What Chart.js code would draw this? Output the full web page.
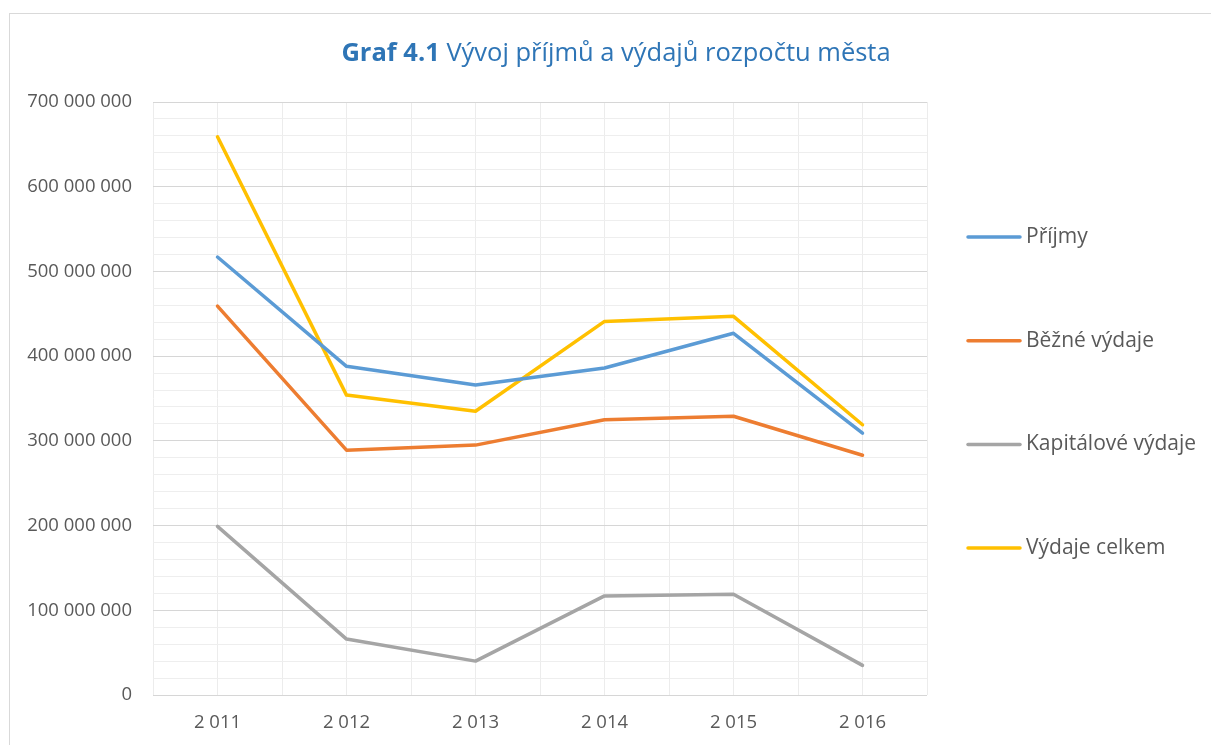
<!DOCTYPE html>
<html lang="cs">
<head>
<meta charset="utf-8">
<title>Graf 4.1 Vývoj příjmů a výdajů rozpočtu města</title>
<script src="https://cdn.jsdelivr.net/npm/chart.js@4.4.1/dist/chart.umd.min.js"></script>
<style>
  html, body { margin: 0; padding: 0; background: #fff; overflow: hidden; }
  #frame { position: absolute; left: 9px; top: 13px; width: 1230px; height: 770px; border: 1px solid #d9d9d9; box-sizing: border-box; }
  #wrap { position: absolute; left: 0; top: 0; width: 1211px; height: 745px; }
</style>
</head>
<body>
<div id="frame"></div>
<div id="wrap"><canvas id="myChart" width="1211" height="745"></canvas></div>
<script>
'use strict';

let years = ['2 011', '2 012', '2 013', '2 014', '2 015', '2 016'];

let prijmy = [517000000, 388000000, 366000000, 386000000, 427000000, 309000000];
let bezneVydaje = [459000000, 289000000, 295000000, 325000000, 329000000, 283000000];
let kapitaloveVydaje = [199000000, 66000000, 40000000, 117000000, 119000000, 35000000];
let vydajeCelkem = [659000000, 354000000, 335000000, 441000000, 447000000, 319000000];

let seriesNames = ['Příjmy', 'Běžné výdaje', 'Kapitálové výdaje', 'Výdaje celkem'];
let seriesColors = ['#5b9bd5', '#ed7d31', '#a5a5a5', '#ffc000'];

let titleBold = 'Graf 4.1';
let titleRest = 'Vývoj příjmů a výdajů rozpočtu města';

let yMax = 700000000;
let yMajor = 100000000;
let yMinor = 20000000;

let font = '"Open Sans", "Noto Sans", sans-serif';
let textColor = '#595959';

function spaced(n) {
  return String(n).replace(/\B(?=(\d{3})+(?!\d))/g, ' ');
}

// title with a bold "Graf 4.1" part, drawn in one line
let titlePlugin = {
  id: 'mixedTitle',
  afterDraw(chart) {
    let c = chart.ctx;
    let size = 25.5;
    c.save();
    c.fillStyle = '#2e75b6';
    c.textBaseline = 'middle';
    c.textAlign = 'left';
    c.font = 'bold ' + size + 'px ' + font;
    let w1 = c.measureText(titleBold + ' ').width;
    c.font = size + 'px ' + font;
    let w2 = c.measureText(titleRest).width;
    let x = 616 - (w1 + w2) / 2;
    let y = 54;
    c.font = 'bold ' + size + 'px ' + font;
    c.fillText(titleBold + ' ', x, y);
    c.font = size + 'px ' + font;
    c.fillText(titleRest, x + w1, y);
    c.restore();
  }
};

// legend on the right, items spread down the plot height
let sideLegend = {
  id: 'sideLegend',
  afterDraw(chart) {
    let c = chart.ctx;
    let area = chart.chartArea;
    let sets = chart.data.datasets;
    let step = 103.7;
    let y0 = area.top + 135;
    let x0 = area.right + 41;
    c.save();
    c.font = '21px ' + font;
    c.textBaseline = 'middle';
    c.textAlign = 'left';
    for (let i = 0; i < sets.length; i++) {
      let y = y0 + i * step;
      c.strokeStyle = sets[i].borderColor;
      c.lineWidth = 3.5;
      c.lineCap = 'round';
      c.beginPath();
      c.moveTo(x0, y);
      c.lineTo(x0 + 52, y);
      c.stroke();
      c.fillStyle = textColor;
      c.fillText(sets[i].label, x0 + 58, y);
    }
    c.restore();
  }
};

let allSeries = [prijmy, bezneVydaje, kapitaloveVydaje, vydajeCelkem];
let datasets = [];
for (let i = 0; i < allSeries.length; i++) {
  datasets.push({
    label: seriesNames[i],
    data: allSeries[i],
    borderColor: seriesColors[i],
    backgroundColor: seriesColors[i],
    borderWidth: 3.5,
    borderCapStyle: 'round',
    borderJoinStyle: 'round',
    pointRadius: 0,
    pointHoverRadius: 0,
    tension: 0,
    fill: false
  });
}

let ctx = document.getElementById('myChart').getContext('2d');

let myChart = new Chart(ctx, {
  type: 'line',
  data: {
    labels: years,
    datasets: datasets
  },
  options: {
    responsive: false,
    animation: false,
    layout: {
      padding: { top: 102, right: 284, bottom: 0, left: 0 }
    },
    plugins: {
      legend: { display: false },
      title: { display: false },
      tooltip: { enabled: false }
    },
    scales: {
      x: {
        position: 'bottom',
        offset: true,
        grid: { offset: true, color: '#ececec', lineWidth: 1, drawTicks: false },
        border: { display: false },
        ticks: { color: textColor, font: { family: font, size: 18.5 }, padding: 17, maxRotation: 0 },
        afterFit(scale) { scale.height = 50; }
      },
      x2: {
        position: 'top',
        offset: true,
        grid: { offset: false, color: '#ececec', lineWidth: 1, drawTicks: false },
        border: { display: false },
        ticks: { display: false },
        afterFit(scale) { scale.height = 0; }
      },
      y: {
        min: 0,
        max: yMax,
        grid: {
          drawTicks: false,
          lineWidth: 1,
          color(c) {
            return c.tick && c.tick.value % yMajor === 0 ? '#d6d6d6' : '#eeeeee';
          }
        },
        border: { display: false },
        ticks: {
          stepSize: yMinor,
          autoSkip: false,
          color: textColor,
          font: { family: font, size: 18.5 },
          padding: 21,
          callback(value) {
            return value % yMajor === 0 ? spaced(value) : '';
          }
        },
        afterFit(scale) { scale.width = 153; }
      }
    }
  },
  plugins: [titlePlugin, sideLegend]
});
</script>
</body>
</html>
